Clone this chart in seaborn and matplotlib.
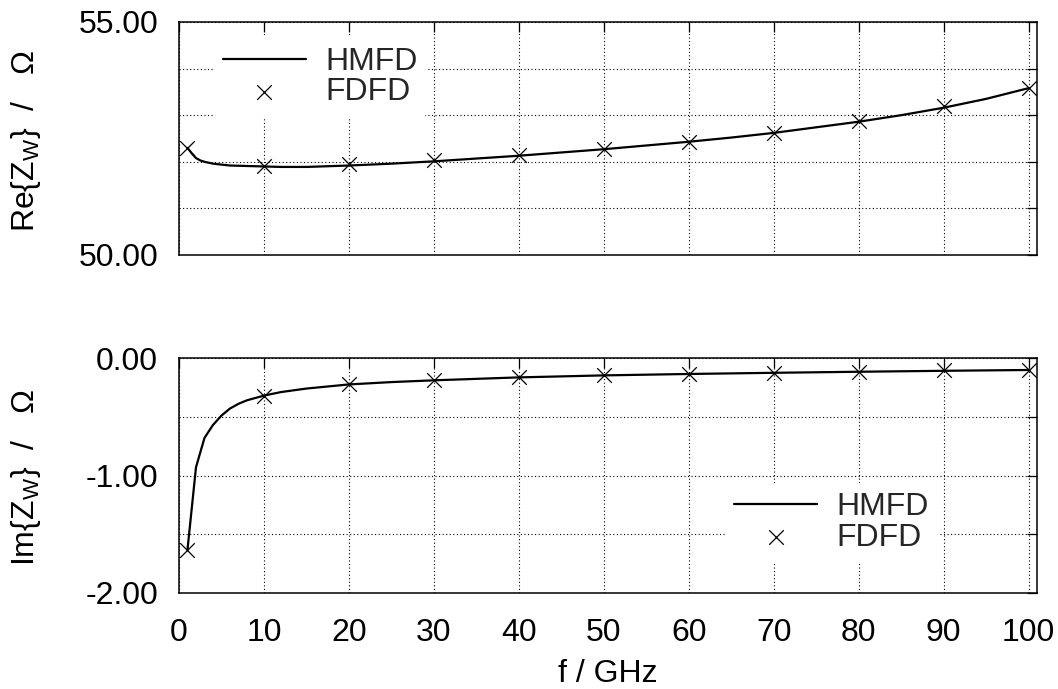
import matplotlib
matplotlib.use("Agg")
import matplotlib.pyplot as plt
from matplotlib.ticker import FixedLocator, FuncFormatter
import seaborn as sns
import pandas as pd

# Wave impedance vs frequency: HMFD (continuous) and FDFD (sampled) results
re_hmfd_f = [1, 1.5, 2, 2.5, 3, 4, 5, 6, 8, 10, 12, 15, 20, 25, 30, 35, 40, 45,
             50, 55, 60, 65, 70, 75, 80, 85, 90, 95, 100]
re_hmfd_z = [52.30, 52.18, 52.08, 52.03, 52.00, 51.96, 51.94, 51.92, 51.91,
             51.90, 51.89, 51.89, 51.92, 51.96, 52.01, 52.07, 52.13, 52.20,
             52.27, 52.35, 52.43, 52.52, 52.62, 52.74, 52.86, 53.00, 53.16,
             53.35, 53.58]

re_fdfd_f = [1, 10, 20, 30, 40, 50, 60, 70, 80, 90, 100]
re_fdfd_z = [52.30, 51.90, 51.95, 52.04, 52.15, 52.28, 52.43, 52.62, 52.88,
             53.20, 53.58]

im_hmfd_f = [1, 2, 3, 4, 5, 6, 7, 8, 10, 12, 15, 20, 25, 30, 40, 50, 60, 70,
             80, 90, 100]
im_hmfd_z = [-1.63, -0.93, -0.68, -0.57, -0.49, -0.43, -0.39, -0.36, -0.32,
             -0.29, -0.26, -0.225, -0.205, -0.19, -0.165, -0.148, -0.136,
             -0.126, -0.117, -0.109, -0.102]

im_fdfd_f = [1, 10, 20, 30, 40, 50, 60, 70, 80, 90, 100]
im_fdfd_z = [-1.63, -0.323, -0.224, -0.187, -0.16, -0.145, -0.135, -0.125,
             -0.115, -0.105, -0.10]

x_ticks = [0, 10, 20, 30, 40, 50, 60, 70, 80, 90, 100]
re_ticks = [50, 51, 52, 53, 54, 55]
re_labeled = [50, 55]
im_ticks = [-2.0, -1.5, -1.0, -0.5, 0.0]
im_labeled = [-2.0, -1.0, 0.0]

sns.set_theme(style="white")
plt.rcParams["font.family"] = ["Liberation Sans", "DejaVu Sans"]
plt.rcParams["mathtext.fontset"] = "custom"
plt.rcParams["mathtext.rm"] = "Liberation Sans"
plt.rcParams["mathtext.it"] = "Liberation Sans"
FS = 23

fig = plt.figure(figsize=(10.58, 6.89), dpi=100)
W, H = 1058, 689


def axes_px(left, top, right, bottom):
    return fig.add_axes([left / W, 1 - bottom / H, (right - left) / W,
                         (bottom - top) / H])


ax_re = axes_px(179, 22, 1037, 255)
ax_im = axes_px(179, 358, 1037, 593)


def label_fmt(labeled):
    def f(v, pos):
        for l in labeled:
            if abs(v - l) < 1e-9:
                return "%.2f" % abs(v) if abs(v) < 1e-9 else "%.2f" % v
        return ""
    return FuncFormatter(f)


def draw(ax, hf, hz, ff, fz, yticks, ylabeled, ylim, ylabel, legend_kw):
    df_line = pd.DataFrame({"f": hf, "z": hz})
    df_pts = pd.DataFrame({"f": ff, "z": fz})
    sns.lineplot(data=df_line, x="f", y="z", ax=ax, color="black", lw=1.6,
                 estimator=None, sort=False, label="HMFD", zorder=3)
    sns.scatterplot(data=df_pts, x="f", y="z", ax=ax, marker="x", s=110,
                    color="black", linewidth=0.9, label="FDFD", zorder=4)
    ax.set_xlim(0, 101)
    ax.set_ylim(*ylim)
    ax.xaxis.set_major_locator(FixedLocator(x_ticks))
    ax.yaxis.set_major_locator(FixedLocator(yticks))
    ax.yaxis.set_major_formatter(label_fmt(ylabeled))
    ax.grid(True, color="black", linestyle=(0, (1, 2.2)), linewidth=0.8)
    ax.tick_params(axis="both", which="major", direction="in", top=True,
                   right=True, length=7, width=0.9, color="black",
                   labelsize=FS, labelcolor="black")
    ax.tick_params(axis="y", pad=15)
    ax.tick_params(axis="x", pad=18)
    for s in ax.spines.values():
        s.set_color("black")
        s.set_linewidth(1.1)
    ax.set_xlabel("")
    ax.set_ylabel(ylabel, fontsize=FS, color="black")
    ax.yaxis.set_label_coords(-0.158, 0.49)
    leg = ax.legend(frameon=True, fontsize=FS, handlelength=2.6,
                    handletextpad=0.6, labelspacing=0.02, borderpad=0.3,
                    borderaxespad=0, **legend_kw)
    leg.get_frame().set_facecolor("white")
    leg.get_frame().set_edgecolor("none")
    leg.get_frame().set_alpha(1)
    return leg


draw(ax_re, re_hmfd_f, re_hmfd_z, re_fdfd_f, re_fdfd_z, re_ticks, re_labeled,
     (50, 55), "Re{Z$_\\mathregular{W}$}  /   Ω",
     dict(loc="upper left", bbox_to_anchor=(0.04, 0.935)))
ax_re.tick_params(axis="x", labelbottom=False)

draw(ax_im, im_hmfd_f, im_hmfd_z, im_fdfd_f, im_fdfd_z, im_ticks, im_labeled,
     (-2, 0), "Im{Z$_\\mathregular{W}$}  /   Ω",
     dict(loc="lower right", bbox_to_anchor=(0.885, 0.13)))
ax_im.set_xlabel("f / GHz", fontsize=FS, color="black", labelpad=8)

fig.savefig("out.png", dpi=100)
